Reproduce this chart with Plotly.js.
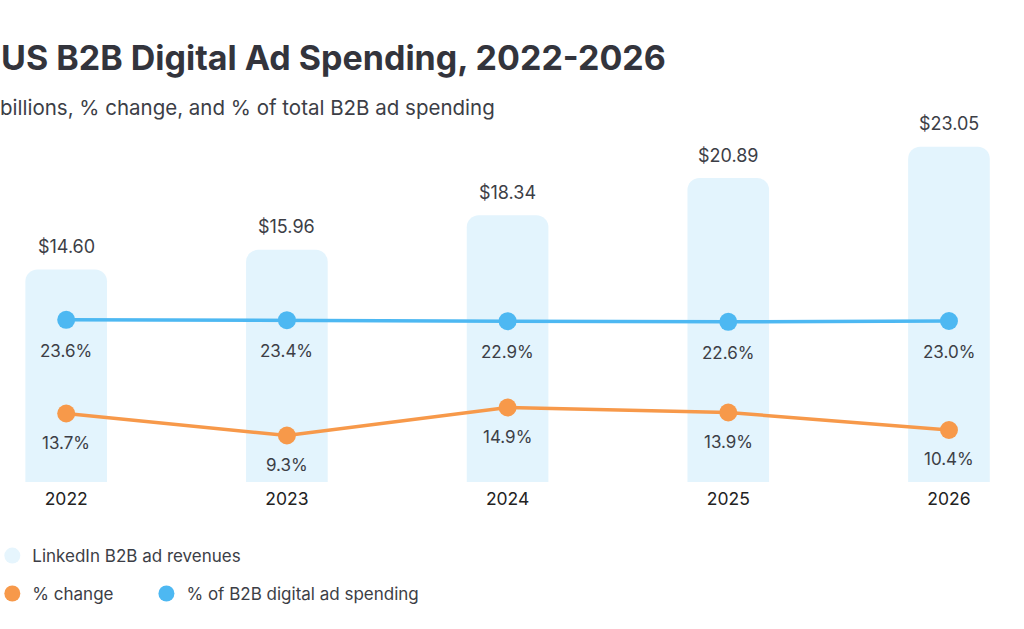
<!DOCTYPE html>
<html>
<head>
<meta charset="utf-8">
<script src="https://cdn.plot.ly/plotly-3.0.1.min.js"></script>
<style>html,body{margin:0;padding:0;background:#fff;}#chart{width:1024px;height:629px;}</style>
</head>
<body>
<div id="chart"></div>
<script>
const years = ['2022', '2023', '2024', '2025', '2026'];
const revenue = [14.60, 15.96, 18.34, 20.89, 23.05];
const pctChange = [13.7, 9.3, 14.9, 13.9, 10.4];
const pctShare = [23.6, 23.4, 22.9, 22.6, 23.0];

const seriesNames = ['LinkedIn B2B ad revenues', '% change', '% of B2B digital ad spending'];
const colors = { bar: '#E3F4FD', barLegend: '#E6F5FD', orange: '#F7994A', blue: '#4DB8F2', text: '#3C3E46', title: '#33343C' };
const FONT = 'Inter, "Noto Sans", sans-serif';

const traces = [
  { type: 'bar', x: years, y: revenue, width: 0.37, marker: { color: colors.bar, cornerradius: 12 },
    showlegend: false, hoverinfo: 'skip' },
  { type: 'scatter', mode: 'lines+markers', x: years, y: pctChange, yaxis: 'y2',
    line: { color: colors.orange, width: 3.5 }, marker: { color: colors.orange, size: 18 },
    showlegend: false, hoverinfo: 'skip' },
  { type: 'scatter', mode: 'lines+markers', x: years, y: pctShare, yaxis: 'y3',
    line: { color: colors.blue, width: 3.5 }, marker: { color: colors.blue, size: 18 },
    showlegend: false, hoverinfo: 'skip' },
  // legend entries
  { type: 'scatter', mode: 'markers', x: [null], y: [null], name: seriesNames[0], legend: 'legend',
    marker: { color: colors.barLegend, size: 16 } },
  { type: 'scatter', mode: 'markers', x: [null], y: [null], name: seriesNames[1], legend: 'legend2',
    marker: { color: colors.orange, size: 16 } },
  { type: 'scatter', mode: 'markers', x: [null], y: [null], name: seriesNames[2], legend: 'legend3',
    marker: { color: colors.blue, size: 16 } }
];

const annotations = [];
years.forEach((yr, i) => {
  annotations.push({ x: i, y: revenue[i], xref: 'x', yref: 'y', text: '$' + revenue[i].toFixed(2),
    showarrow: false, yshift: 23, yanchor: 'middle', font: { family: FONT, size: 18, color: colors.text } });
  annotations.push({ x: i, y: pctShare[i], xref: 'x', yref: 'y3', text: pctShare[i].toFixed(1) + '%',
    showarrow: false, yshift: -31, yanchor: 'middle', font: { family: FONT, size: 17, color: colors.text } });
  annotations.push({ x: i, y: pctChange[i], xref: 'x', yref: 'y2', text: pctChange[i].toFixed(1) + '%',
    showarrow: false, yshift: -29, yanchor: 'middle', font: { family: FONT, size: 17, color: colors.text } });
});
annotations.push({ xref: 'paper', yref: 'paper', x: -0.002, y: 1.008, xanchor: 'left', yanchor: 'middle',
  text: 'billions, % change, and % of total B2B ad spending', showarrow: false,
  font: { family: FONT, size: 20.5, color: colors.text } });

const legendFont = { family: FONT, size: 17, color: colors.text };
const layout = {
  width: 1024, height: 629,
  margin: { l: 0, r: 0, t: 110, b: 147, autoexpand: false },
  paper_bgcolor: '#fff', plot_bgcolor: '#fff',
  title: { text: 'US B2B Digital Ad Spending, 2022-2026', x: 0.001, xref: 'container', xanchor: 'left',
    y: 0.908, yref: 'container', yanchor: 'middle',
    font: { family: FONT, size: 34, weight: 700, color: colors.title } },
  xaxis: { type: 'category', range: [-0.3, 4.34], showgrid: false, zeroline: false, showline: false,
    ticks: '', ticklabelstandoff: 4, tickfont: { family: FONT, size: 17.5, color: '#222' }, fixedrange: true },
  yaxis: { range: [0, 25.57], visible: false, fixedrange: true },
  yaxis2: { range: [0, 74.4], overlaying: 'y', visible: false, fixedrange: true },
  yaxis3: { range: [-57.5, 128.5], overlaying: 'y', visible: false, fixedrange: true },
  legend: { orientation: 'h', x: -0.0075, xanchor: 'left', y: -0.199, yanchor: 'middle',
    font: legendFont, bgcolor: 'rgba(0,0,0,0)' },
  legend2: { orientation: 'h', x: -0.0075, xanchor: 'left', y: -0.301, yanchor: 'middle',
    font: legendFont, bgcolor: 'rgba(0,0,0,0)' },
  legend3: { orientation: 'h', x: 0.143, xanchor: 'left', y: -0.301, yanchor: 'middle',
    font: legendFont, bgcolor: 'rgba(0,0,0,0)' },
  annotations: annotations,
  showlegend: true
};

Plotly.newPlot('chart', traces, layout, { displayModeBar: false, staticPlot: true });
</script>
</body>
</html>
